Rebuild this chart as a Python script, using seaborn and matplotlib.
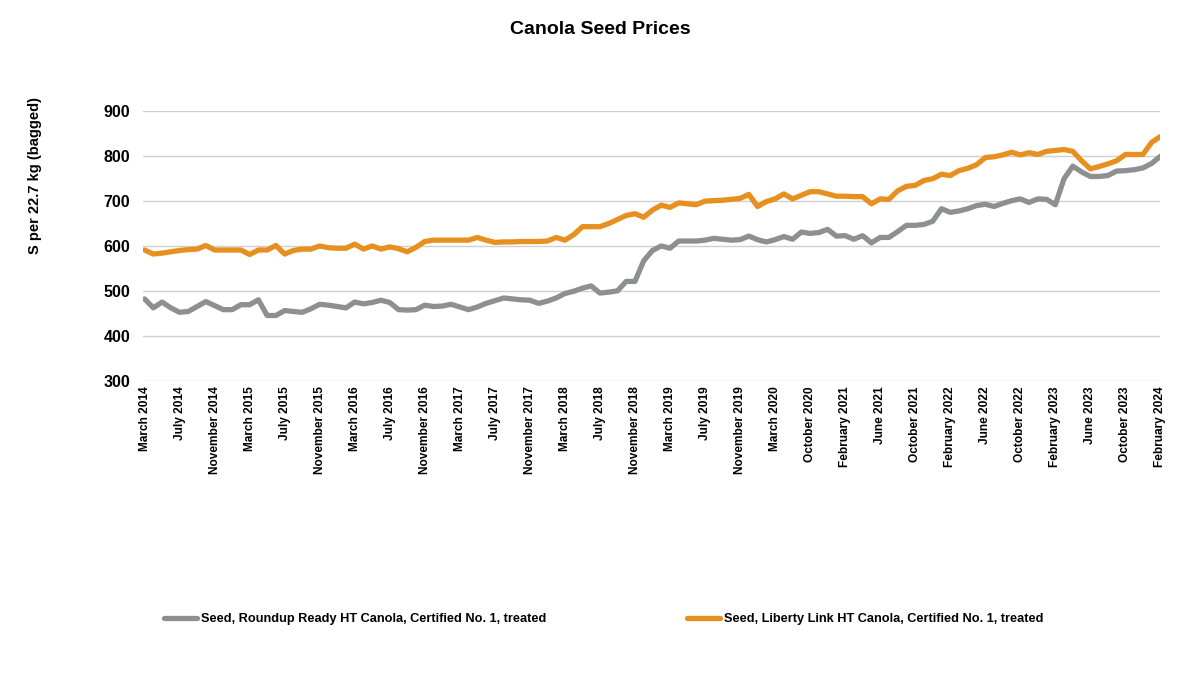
import pandas as pd
import matplotlib
matplotlib.use("Agg")
import matplotlib.pyplot as plt
import seaborn as sns

# monthly prices, March 2014 - February 2024 (a few 2020 months missing in the source)
roundup_ready = [482, 462, 475, 462, 452, 454, 465, 476, 467, 458,
                 458, 469, 469, 480, 445, 445, 456, 454, 452, 460,
                 470, 468, 465, 462, 475, 471, 474, 479, 474, 458,
                 457, 458, 468, 465, 466, 470, 464, 458, 464, 472,
                 478, 484, 482, 480, 479, 472, 477, 484, 494, 499,
                 506, 511, 495, 497, 500, 521, 521, 567, 590, 600,
                 595, 611, 611, 611, 613, 617, 615, 613, 614, 622,
                 614, 609, 614, 621, 615, 631, 628, 630, 637, 622,
                 623, 615, 623, 607, 619, 619, 632, 646, 646, 648,
                 655, 683, 675, 678, 683, 690, 693, 688, 695, 701,
                 705, 697, 705, 704, 692, 750, 778, 765, 755, 755,
                 757, 767, 768, 770, 774, 784, 800]

liberty_link = [591, 582, 584, 587, 590, 592, 593, 601, 591, 591,
                591, 591, 581, 591, 591, 601, 582, 590, 593, 593,
                600, 596, 595, 595, 604, 593, 600, 593, 598, 594,
                587, 597, 610, 613, 613, 613, 613, 613, 619, 613,
                608, 609, 609, 610, 610, 610, 611, 619, 613, 625,
                643, 643, 643, 650, 659, 668, 672, 664, 680, 691,
                686, 696, 694, 692, 700, 701, 702, 704, 706, 715,
                688, 699, 705, 716, 705, 713, 721, 721, 716, 711,
                711, 710, 710, 694, 705, 704, 723, 733, 735, 746,
                750, 760, 757, 768, 773, 781, 797, 799, 803, 809,
                803, 808, 804, 811, 813, 815, 811, 790, 772, 777,
                783, 790, 804, 804, 804, 831, 844]

tick_labels = ["March 2014", "July 2014", "November 2014", "March 2015", "July 2015",
               "November 2015", "March 2016", "July 2016", "November 2016", "March 2017",
               "July 2017", "November 2017", "March 2018", "July 2018", "November 2018",
               "March 2019", "July 2019", "November 2019", "March 2020", "October 2020",
               "February 2021", "June 2021", "October 2021", "February 2022", "June 2022",
               "October 2022", "February 2023", "June 2023", "October 2023", "February 2024"]

series_names = ["Seed, Roundup Ready HT Canola, Certified No. 1, treated",
                "Seed, Liberty Link HT Canola, Certified No. 1, treated"]

# long format for seaborn
n = len(roundup_ready)
df = pd.DataFrame({
    "period": list(range(n)) * 2,
    "price": roundup_ready + liberty_link,
    "series": [series_names[0]] * n + [series_names[1]] * n,
})

sns.set_style("white")
plt.rcParams["font.family"] = ["Liberation Sans", "DejaVu Sans"]
plt.rcParams["font.weight"] = "bold"
plt.rcParams["text.color"] = "black"
plt.rcParams["xtick.color"] = "black"
plt.rcParams["ytick.color"] = "black"

fig = plt.figure(figsize=(12, 6.75), dpi=100)
ax = fig.add_axes([0.119, 0.4356, 0.848, 0.4])

palette = {series_names[0]: "#8E8F92", series_names[1]: "#E8901F"}
sns.lineplot(data=df, x="period", y="price", hue="series", palette=palette,
             linewidth=3.8, ax=ax, legend=True)

ax.set_ylim(299, 901)
ax.set_yticks(range(300, 901, 100))
ax.set_xlim(-0.2, n - 1)
ax.set_xticks(range(0, n, 4))
ax.set_xticklabels(tick_labels, rotation=90, fontsize=8.6, fontweight="bold")
ax.tick_params(axis="y", labelsize=11.5, pad=9, length=0)
ax.tick_params(axis="x", pad=4, length=0)
for lbl in ax.get_yticklabels():
    lbl.set_fontweight("bold")
ax.grid(axis="y", color="#D0D0D0", linewidth=1)
ax.set_axisbelow(True)
for s in ax.spines.values():
    s.set_visible(False)
ax.set_xlabel("")
ax.set_ylabel("")

fig.text(0.5, 1 - 30 / 675, "Canola Seed Prices", ha="center", va="center",
         fontsize=14, fontweight="bold")
fig.text(35 / 1200, 1 - 175 / 675, "S per 22.7 kg (bagged)", rotation=90,
         ha="center", va="center", fontsize=10.5, fontweight="bold")

handles, labels = ax.get_legend_handles_labels()
ax.legend(handles, labels, loc="center", bbox_to_anchor=(0.503, (675 - 619) / 675),
          bbox_transform=fig.transFigure, ncol=2, frameon=False, fontsize=9.2,
          handlelength=2.6, handletextpad=0.3, columnspacing=11)

fig.savefig("out.png", dpi=100)
